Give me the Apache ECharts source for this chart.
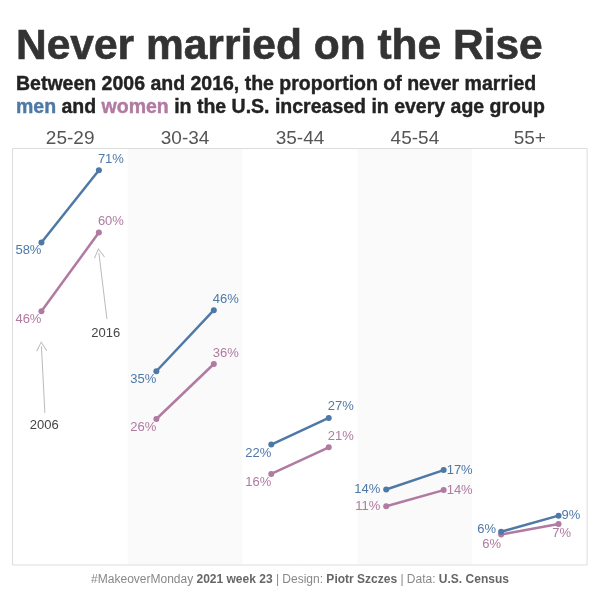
<!DOCTYPE html>
<html>
<head>
<meta charset="utf-8">
<script src="https://cdn.jsdelivr.net/npm/echarts@6/dist/echarts.min.js"></script>
<style>html,body{margin:0;padding:0;background:#fff}#c{width:600px;height:600px}</style>
</head>
<body>
<div id="c"></div>
<script>
// ---- data ----
const ageGroups = ['25-29', '30-34', '35-44', '45-54', '55+'];
const years = ['2006', '2016'];
const men2006 = [58.0, 34.8, 21.6, 13.5, 5.9];
const men2016 = [71.0, 45.8, 26.4, 17.0, 8.8];
const women2006 = [45.6, 26.2, 16.3, 10.5, 5.4];
const women2016 = [59.8, 36.1, 21.1, 13.4, 7.3];
const menLabels2006 = ['58%', '35%', '22%', '14%', '6%'];
const menLabels2016 = ['71%', '46%', '27%', '17%', '9%'];
const womenLabels2006 = ['46%', '26%', '16%', '11%', '6%'];
const womenLabels2016 = ['60%', '36%', '21%', '14%', '7%'];

// ---- style ----
const FONT = 'Arial, "Liberation Sans", sans-serif';
const BLUE = '#4e79a7';
const PINK = '#b07aa1';
const PANEL_LEFT = 12.7, PANEL_W = 114.92, TOP = 148, H = 416.5;
const shades = ['#ffffff', '#fafafa', '#ffffff', '#fafafa', '#ffffff'];

function labelCfg(panel, isMen, yearIdx, color) {
  const base = { show: true, color: color, fontSize: 13, fontFamily: FONT };
  if (panel <= 2) {
    if (yearIdx === 0) return Object.assign(base, { position: 'bottom', align: 'right', distance: 0, offset: [0, -1] });
    return Object.assign(base, { position: 'top', align: 'left', distance: 1.5, offset: [-1, 0] });
  }
  if (panel === 3) {
    if (yearIdx === 0) return Object.assign(base, { position: 'left', distance: 3 });
    return Object.assign(base, { position: 'right', distance: 0 });
  }
  // panel 4
  if (isMen) {
    if (yearIdx === 0) return Object.assign(base, { position: 'left', distance: 2, offset: [0, -2] });
    return Object.assign(base, { position: 'right', distance: 0 });
  }
  if (yearIdx === 0) return Object.assign(base, { position: 'bottom', align: 'right', distance: 0 });
  return Object.assign(base, { position: 'bottom', distance: 0, offset: [3, 0] });
}

const grids = [], xAxes = [], yAxes = [], series = [];
ageGroups.forEach((g, i) => {
  grids.push({ left: PANEL_LEFT + i * PANEL_W, width: PANEL_W, top: TOP, height: H, show: true, backgroundColor: shades[i], borderWidth: 0 });
  xAxes.push({ gridIndex: i, type: 'value', min: -0.5, max: 1.5, position: 'top',
    axisLine: { show: false }, axisTick: { show: false }, axisLabel: { show: false }, splitLine: { show: false },
    name: g, nameLocation: 'middle', nameGap: 0,
    nameTextStyle: { fontSize: 19, color: '#555', fontFamily: FONT } });
  yAxes.push({ gridIndex: i, type: 'value', min: 0, max: 75, show: false, splitLine: { show: false } });
  const mk = (name, v06, v16, l06, l16, color, isMen) => ({
    name: name, type: 'line', xAxisIndex: i, yAxisIndex: i,
    symbol: 'circle', symbolSize: 6, z: isMen ? 3 : 2,
    lineStyle: { color: color, width: 2.5 }, itemStyle: { color: color },
    data: [
      { value: [0, v06], label: Object.assign(labelCfg(i, isMen, 0, color), { formatter: l06 }) },
      { value: [1, v16], label: Object.assign(labelCfg(i, isMen, 1, color), { formatter: l16 }) }
    ],
    silent: true, animation: false
  });
  const m = mk('men', men2006[i], men2016[i], menLabels2006[i], menLabels2016[i], BLUE, true);
  const w = mk('women', women2006[i], women2016[i], womenLabels2006[i], womenLabels2016[i], PINK, false);
  if (i === 0) {
    const chevron = 'path://M0,10 L5,0 L10,10 L9.2,10.5 L5,1.9 L0.8,10.5 Z';
    w.markLine = {
      silent: true, animation: false,
      symbol: [chevron, 'none'], symbolSize: [11, 10],
      lineStyle: { color: '#bbbbbb', width: 1, type: 'solid' },
      label: { show: false },
      data: [
        [{ coord: [0, 39.3] }, { coord: [0.06, 27.3] }],
        [{ coord: [1.0, 56.1] }, { coord: [1.14, 44.2] }]
      ]
    };
    w.markPoint = {
      silent: true, animation: false, symbol: 'circle', symbolSize: 0,
      label: { show: true, position: 'inside', color: '#444', fontSize: 13, fontFamily: FONT, formatter: '{b}' },
      data: [
        { name: years[0], coord: [0.05, 25.0] },
        { name: years[1], coord: [1.12, 41.6] }
      ]
    };
  }
  series.push(m, w);
});

const SUB = 19.5, SUBLH = 22.5;
const option = {
  animation: false,
  backgroundColor: '#ffffff',
  title: [
    { text: 'Never married on the Rise', left: 16, top: 26, padding: 0,
      textStyle: { fontSize: 42.5, fontWeight: 'bold', color: '#333333', fontFamily: FONT, lineHeight: 42,
        textBorderColor: '#333333', textBorderWidth: 0.6 } },
    { text: '{d|Between 2006 and 2016, the proportion of never married}\n{m|men}{d| and }{w|women}{d| in the U.S. increased in every age group}',
      left: 16, top: 73.5, padding: 0,
      textStyle: { fontSize: SUB, fontWeight: 'bold', fontFamily: FONT, lineHeight: SUBLH,
        rich: {
          d: { fontSize: SUB, fontWeight: 'bold', color: '#222222', fontFamily: FONT, lineHeight: SUBLH, textBorderColor: '#222222', textBorderWidth: 0.4 },
          m: { fontSize: SUB, fontWeight: 'bold', color: BLUE, fontFamily: FONT, lineHeight: SUBLH, textBorderColor: BLUE, textBorderWidth: 0.4 },
          w: { fontSize: SUB, fontWeight: 'bold', color: PINK, fontFamily: FONT, lineHeight: SUBLH, textBorderColor: PINK, textBorderWidth: 0.4 }
        } } },
    { text: '{a|#MakeoverMonday }{b|2021 week 23}{a| | Design: }{b|Piotr Szczes}{a| | Data: }{b|U.S. Census}',
      left: 'center', top: 574, padding: 0,
      textStyle: { fontSize: 12, fontFamily: FONT, fontWeight: 'normal',
        rich: {
          a: { fontSize: 12, color: '#888888', fontWeight: 'normal', fontFamily: FONT },
          b: { fontSize: 12, color: '#666666', fontWeight: 'bold', fontFamily: FONT }
        } } }
  ],
  grid: grids,
  xAxis: xAxes,
  yAxis: yAxes,
  series: series,
  graphic: [
    { type: 'rect', silent: true, z: 100,
      shape: { x: 12.5, y: 148.5, width: PANEL_W * 5, height: H },
      style: { fill: 'none', stroke: '#dddddd', lineWidth: 1 } }
  ]
};

const chart = echarts.init(document.getElementById('c'), null, { renderer: 'canvas' });
chart.setOption(option);
</script>
</body>
</html>
